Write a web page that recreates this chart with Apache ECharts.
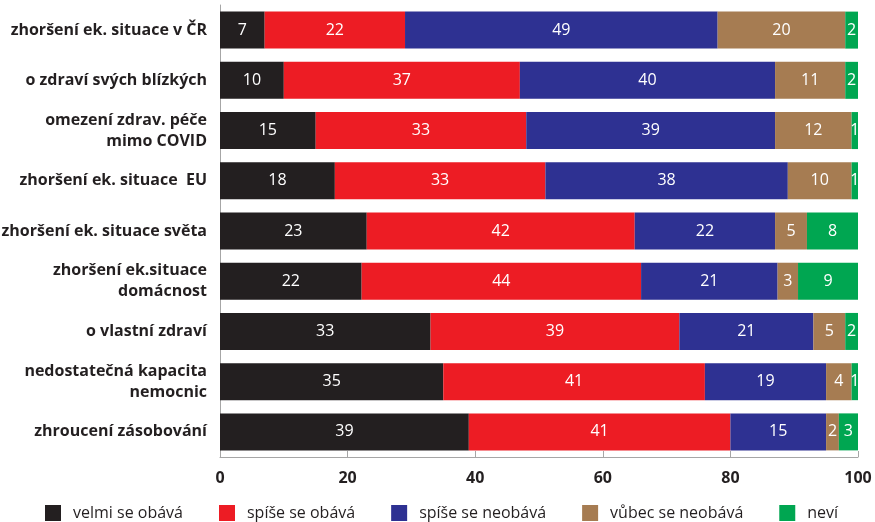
<!DOCTYPE html>
<html>
<head>
<meta charset="utf-8">
<script src="https://cdn.jsdelivr.net/npm/echarts@6/dist/echarts.min.js"></script>
<style>
html,body{margin:0;padding:0;background:#fff;}
#c{width:875px;height:522px;}
</style>
</head>
<body>
<div id="c"></div>
<script>
const categories = [
  'zhoršení ek. situace v ČR',
  'o zdraví svých blízkých',
  'omezení zdrav. péče\nmimo COVID',
  'zhoršení ek. situace  EU',
  'zhoršení ek. situace světa',
  'zhoršení ek.situace\ndomácnost',
  'o vlastní zdraví',
  'nedostatečná kapacita\nnemocnic',
  'zhroucení zásobování'
];
const seriesNames = ['velmi se obává', 'spíše se obává', 'spíše se neobává', 'vůbec se neobává', 'neví'];
const velmiObava  = [7, 10, 15, 18, 23, 22.2, 33, 35, 39];
const spiseObava  = [22, 37, 33, 33, 42, 43.8, 39, 41, 41];
const spiseNeobava = [49, 40, 39, 38, 22, 21.4, 21, 19, 15];
const vubecNeobava = [20, 11, 12, 10, 5, 3.2, 5, 4, 2];
const nevi        = [2, 2, 1, 1, 8, 9.4, 2, 1, 3];
const xTicks = [0, 20, 40, 60, 80, 100];
const colors = ['#231f20', '#ed1c24', '#2e3192', '#a67c52', '#00a651'];

const FONT = '"Open Sans", sans-serif';
const values = [velmiObava, spiseObava, spiseNeobava, vubecNeobava, nevi];

const chart = echarts.init(document.getElementById('c'), null, {renderer: 'canvas'});
chart.setOption({
  animation: false,
  textStyle: {fontFamily: FONT},
  grid: {left: 220, right: 17, top: 5, bottom: 65, containLabel: false, outerBoundsMode: 'none'},
  legend: {
    data: seriesNames,
    left: 45,
    top: 505,
    padding: 0,
    icon: 'rect',
    itemWidth: 16,
    itemHeight: 16,
    itemGap: 36,
    textStyle: {fontFamily: FONT, fontSize: 16, color: '#231f20', padding: [0, 0, 0, 7]}
  },
  xAxis: {
    type: 'value',
    min: xTicks[0],
    max: xTicks[xTicks.length - 1],
    interval: 20,
    axisLine: {show: true, lineStyle: {color: '#a6a6a6', width: 1}},
    axisTick: {show: true, inside: true, length: 6, lineStyle: {color: '#a6a6a6'}},
    splitLine: {show: false},
    axisLabel: {fontFamily: FONT, fontWeight: 'bold', fontSize: 16, color: '#231f20', margin: 13}
  },
  yAxis: {
    type: 'category',
    inverse: true,
    data: categories,
    axisLine: {show: true, lineStyle: {color: '#a6a6a6', width: 1}},
    axisTick: {show: false},
    axisLabel: {fontFamily: FONT, fontWeight: 'bold', fontSize: 16, color: '#231f20', margin: 13, lineHeight: 21, align: 'right'}
  },
  series: seriesNames.map((name, i) => ({
    name: name,
    type: 'bar',
    stack: 'total',
    barWidth: 37,
    itemStyle: {color: colors[i]},
    label: {
      show: true,
      position: 'inside',
      color: '#ffffff',
      fontFamily: FONT,
      fontSize: 16,
      formatter: p => Math.round(p.value)
    },
    data: values[i]
  }))
});
</script>
</body>
</html>
